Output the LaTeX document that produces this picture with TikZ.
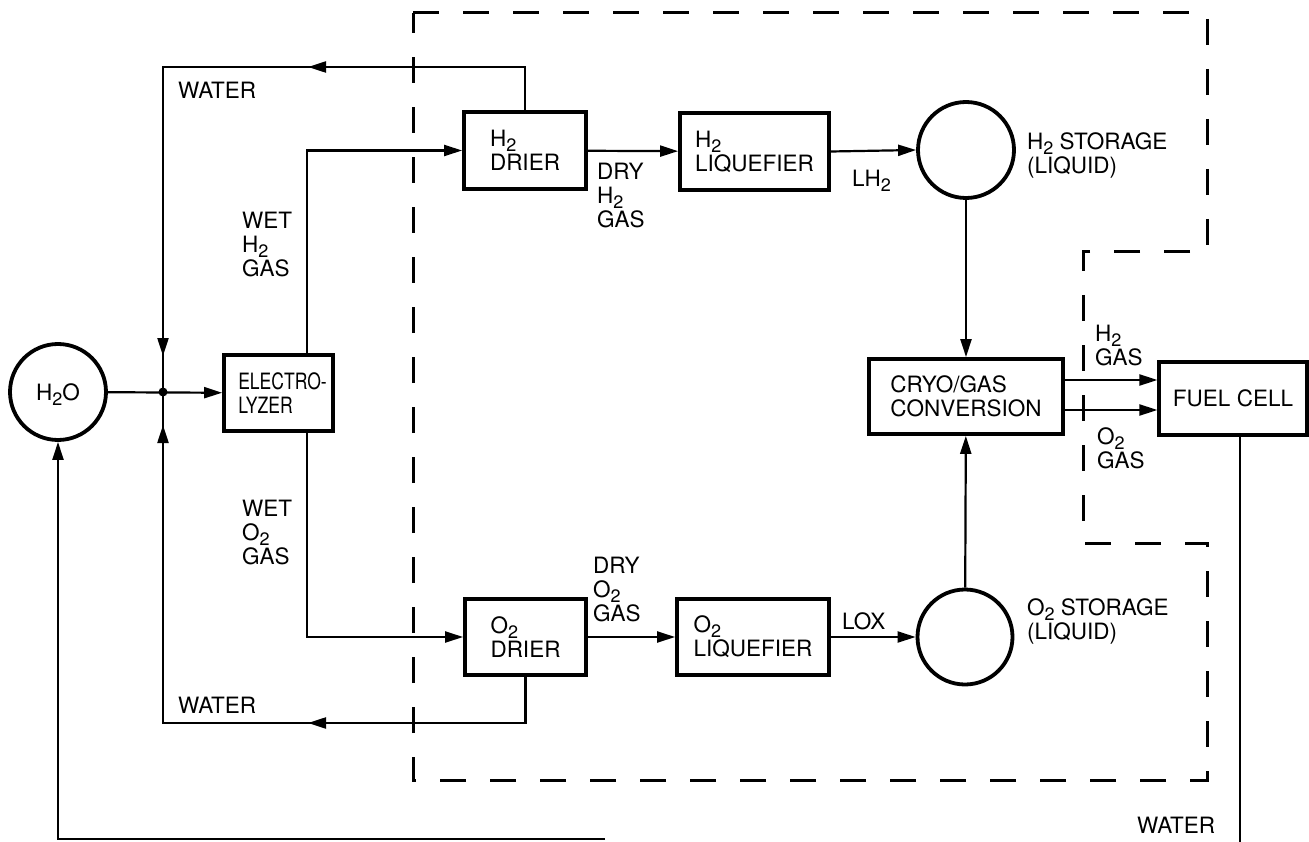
\documentclass[tikz,border=0pt]{standalone}
\usepackage{fontspec}
\setmainfont{TeX Gyre Heros}
\usetikzlibrary{arrows.meta,calc}
\newcommand{\lowsub}[1]{\raisebox{-5pt}[0pt][0pt]{\fontsize{18}{18}\selectfont #1}}
\newcommand{\narrowtxt}[1]{\scalebox{0.78}[1]{#1}}
\begin{document}
\begin{tikzpicture}[x=1pt,y=-1pt,
  lbl/.style={font=\fontsize{22.5}{24}\selectfont, align=left, inner sep=0pt, anchor=north west},
  box/.style={draw, line width=3.8pt, rectangle, font=\fontsize{22.5}{24}\selectfont, align=left, inner sep=0pt},
  tank/.style={draw, circle, line width=3.8pt, inner sep=0pt, minimum size=96pt, font=\fontsize{22.5}{24}\selectfont},
  flow/.style={line width=2.2pt},
  arr/.style={flow, -{Triangle[length=18pt,width=11pt]}},
  bound/.style={line width=3pt, dash pattern=on 26pt off 24pt},
]
\useasboundingbox (0,0) rectangle (1309,842);

% boundary
\draw[bound] (413,13) -- (1207,13) -- (1207,252) -- (1083,252) -- (1083,543) -- (1207,543) -- (1207,780) -- (413,780) -- cycle;

% nodes
\node[tank] (h2o) at (58,392) {H\lowsub{2}O};
\node[box, minimum width=109pt, minimum height=76pt] (elec) at (278.5,393) {\hspace*{8pt}\narrowtxt{ELECTRO-}\\\hspace*{8pt}\narrowtxt{LYZER}};
\node[box, minimum width=122pt, minimum height=77pt] (h2dr) at (525,150.5) {H\lowsub{2}\\DRIER};
\node[box, minimum width=149pt, minimum height=77pt] (h2lq) at (754.5,151.5) {H\lowsub{2}\\LIQUEFIER};
\node[tank] (h2st) at (966,150) {};
\node[box, minimum width=194pt, minimum height=75pt] (cryo) at (966,396.5) {CRYO/GAS\\CONVERSION};
\node[box, line width=3.2pt, minimum width=148pt, minimum height=73pt] (fc) at (1233,398.5) {FUEL CELL};
\node[tank, minimum size=95pt] (o2st) at (965,637) {};
\node[box, minimum width=152pt, minimum height=76pt] (o2lq) at (753,637) {O\lowsub{2}\\LIQUEFIER};
\node[box, minimum width=121pt, minimum height=76pt] (o2dr) at (525.5,637) {O\lowsub{2}\\DRIER};

% helper coordinates
\coordinate (J) at (163,392);
\coordinate (TL) at (163,67);
\coordinate (BL) at (163,723);
\coordinate (wx) at (307,0);
\coordinate (ya) at (0,380);
\coordinate (yb) at (0,410);
\coordinate (fx) at (1240,842);
\coordinate (rr) at (605,839);
\coordinate (wa1s) at (332,67);
\coordinate (wa1) at (308,67);
\coordinate (wa2s) at (332,723);
\coordinate (wa2) at (308,723);
\coordinate (da1s) at (163,332);
\coordinate (da1) at (163,356);
\coordinate (da2s) at (163,449);
\coordinate (da2) at (163,425);

% connectors
\draw[arr] (h2o) -- (elec);
\fill (J) circle (4.5pt);
\draw[flow] (h2dr.north) |- (TL) -- (J);
\draw[flow] (o2dr.south) |- (BL) -- (J);
\draw[arr] (wa1s) -- (wa1);
\draw[arr] (wa2s) -- (wa2);
\draw[arr] (da1s) -- (da1);
\draw[arr] (da2s) -- (da2);
\draw[arr] (elec.north -| wx) |- (h2dr.west);
\draw[arr] (elec.south -| wx) |- (o2dr.west);
\draw[arr] (h2dr) -- (h2lq);
\draw[arr] (h2lq.east) -- (h2st.west);
\draw[arr] (h2st) -- (cryo);
\draw[arr] (o2st) -- (cryo);
\draw[arr] (o2dr) -- (o2lq);
\draw[arr] (o2lq.east) -- (o2st.west);
\draw[arr] (cryo.east |- ya) -- (fc.west |- ya);
\draw[arr] (cryo.east |- yb) -- (fc.west |- yb);
\draw[flow] (fc.south -| fx) -- (fx);
\draw[arr] (rr) -| (h2o.south);

% labels
\node[lbl] (lwt) at (178,82) {WATER};
\node[lbl] (lwb) at (178,697) {WATER};
\node[lbl] (lwh) at (242,212) {WET\\H\lowsub{2}\\GAS};
\node[lbl] (lwo) at (242,500) {WET\\O\lowsub{2}\\GAS};
\node[lbl] (ldh) at (597,163) {DRY\\H\lowsub{2}\\GAS};
\node[lbl] (ldo) at (593,557) {DRY\\O\lowsub{2}\\GAS};
\node[lbl] (llh) at (852,170) {LH\lowsub{2}};
\node[lbl] (llox) at (842,612) {LOX};
\node[lbl] (lhs) at (1027,132) {H\lowsub{2} STORAGE\\(LIQUID)};
\node[lbl] (los) at (1027,598) {O\lowsub{2} STORAGE\\(LIQUID)};
\node[lbl] (lhg) at (1095,325) {H\lowsub{2}\\GAS};
\node[lbl] (log) at (1097,427) {O\lowsub{2}\\GAS};
\node[lbl] (lwr) at (1137,817) {WATER};
\end{tikzpicture}
\end{document}
